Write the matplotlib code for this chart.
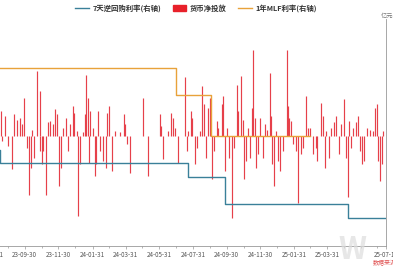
import pandas as pd
import matplotlib
matplotlib.use('Agg')
from matplotlib import pyplot as plt
from matplotlib.lines import Line2D
from matplotlib.patches import Patch
from matplotlib.ticker import MultipleLocator

plt.rcParams['font.family'] = ['Noto Sans CJK SC', 'DejaVu Sans']

# 货币净投放 (亿元)
inj_dates = [
    '2023-08-18', '2023-08-20', '2023-08-26', '2023-08-30',
    '2023-09-07', '2023-09-11', '2023-09-16', '2023-09-22', '2023-09-25', '2023-09-29',
    '2023-10-04', '2023-10-08', '2023-10-12', '2023-10-14', '2023-10-16', '2023-10-23', '2023-10-27', '2023-10-28', '2023-10-31',
    '2023-11-03', '2023-11-07', '2023-11-12', '2023-11-15', '2023-11-21', '2023-11-24', '2023-11-27',
    '2023-12-01', '2023-12-04', '2023-12-09', '2023-12-13', '2023-12-18', '2023-12-21', '2023-12-26', '2023-12-28',
    '2024-01-02', '2024-01-05', '2024-01-08', '2024-01-13', '2024-01-18', '2024-01-19', '2024-01-22', '2024-01-24', '2024-01-26', '2024-01-31',
    '2024-02-04', '2024-02-07', '2024-02-10', '2024-02-13', '2024-02-19', '2024-02-24', '2024-02-27', '2024-02-29',
    '2024-03-06', '2024-03-12', '2024-03-21', '2024-03-28', '2024-03-30',
    '2024-04-02', '2024-04-08',
    '2024-05-02', '2024-05-10',
    '2024-06-01', '2024-06-04', '2024-06-07', '2024-06-16', '2024-06-21', '2024-06-25', '2024-06-28',
    '2024-07-04', '2024-07-17', '2024-07-20', '2024-07-22', '2024-07-27', '2024-07-30',
    '2024-08-04', '2024-08-07', '2024-08-13', '2024-08-17', '2024-08-20', '2024-08-23', '2024-08-28', '2024-08-31',
    '2024-09-04', '2024-09-08', '2024-09-12', '2024-09-15', '2024-09-21', '2024-09-24', '2024-09-27', '2024-09-30',
    '2024-10-05', '2024-10-10', '2024-10-13', '2024-10-18', '2024-10-21', '2024-10-26', '2024-10-29',
    '2024-11-01', '2024-11-04', '2024-11-08', '2024-11-11', '2024-11-15', '2024-11-17', '2024-11-20', '2024-11-23', '2024-11-26', '2024-11-30',
    '2024-12-05', '2024-12-08', '2024-12-13', '2024-12-17', '2024-12-19', '2024-12-22', '2024-12-25', '2024-12-28',
    '2025-01-02', '2025-01-05', '2025-01-11', '2025-01-17', '2025-01-19', '2025-01-22', '2025-01-25', '2025-01-29',
    '2025-02-03', '2025-02-07', '2025-02-12', '2025-02-16', '2025-02-21', '2025-02-25',
    '2025-03-01', '2025-03-06', '2025-03-11', '2025-03-13', '2025-03-20', '2025-03-23', '2025-03-27', '2025-03-30',
    '2025-04-04', '2025-04-08', '2025-04-12', '2025-04-17', '2025-04-22', '2025-04-26',
    '2025-05-01', '2025-05-04', '2025-05-08', '2025-05-10', '2025-05-13', '2025-05-18', '2025-05-22', '2025-05-26', '2025-05-30',
    '2025-06-03', '2025-06-06', '2025-06-11', '2025-06-17', '2025-06-22', '2025-06-26', '2025-06-29',
    '2025-07-01', '2025-07-05', '2025-07-08', '2025-07-11',
]
inj_values = [
    2700, -550, 2200, -1100,
    -3600, 2400, 1800, 2000, 1300, 4200,
    -1300, -6400, -3500, 700, -2400, 7100, 4900, -1600, -3100,
    -1600, -6400, 1500, 1600, 1300, 2900, 2400,
    -5500, -3500, 900, 2000, -1600, 1300, 3300, 2500,
    500, -8700, -3100, 400, 2400, 6700, 4200, -2900, 2700, 900,
    -4400, -3100, 2700, -1600, -2700, -3500, 2500, 3300,
    -3800, 500, 400, 2400, 1300,
    -900, -4000,
    4200, -4400,
    2400, 1100, -2500, 500, 2500, 2000, 900,
    -2900, 6400, -1600, 500, 2700, 2000,
    -3100, -1300, 500, 5500, 3500, -2400, 3100, 4200,
    -4700, -1600, 1600, 900, 3500, 4400, -3800, 900,
    -2400, -8900, -1300, 5600, 2700, 6500, 1800,
    -4700, -2700, 900, -2400, 3100, 9400, 2000, -3500, -2000, 2000,
    -2400, 1300, 700, 6900, 2200, -3100, -5500, 500,
    -2700, -3800, -1600, 9400, 3300, 2000, 1600, -900,
    -1600, -7300, -2000, -1300, 4400, 900,
    900, -2000, -1300, -2700, 3600, 2200, -3500, 500,
    -2400, 900, 1500, 2200, -2000, 1300,
    4000, -2400, -6700, 1600, -1300, 900, 1500, 2200, -1600,
    -3100, -2700, 900, 700, 500, 3100, 3500,
    -2700, -4900, -3100, 500,
]

# 7天逆回购利率 (%), step changes
repo_dates = ['2023-07-11', '2023-08-17', '2024-07-22', '2024-09-27', '2025-05-08', '2025-07-16']
repo_rates = [1.9, 1.8, 1.7, 1.5, 1.4, 1.4]

# 1年MLF利率 (%), monthly
mlf_dates = ['2023-07-01', '2023-08-01', '2023-09-01', '2023-10-01', '2023-11-01', '2023-12-01',
             '2024-01-01', '2024-02-01', '2024-03-01', '2024-04-01', '2024-05-01', '2024-06-01',
             '2024-07-01', '2024-08-01', '2024-09-01', '2024-10-01', '2024-11-01', '2024-12-01',
             '2025-01-01', '2025-02-01', '2025-03-01']
mlf_rates = [2.65, 2.5, 2.5, 2.5, 2.5, 2.5,
             2.5, 2.5, 2.5, 2.5, 2.5, 2.5,
             2.3, 2.3, 2.0, 2.0, 2.0, 2.0,
             2.0, 2.0, 2.0]

xtick_dates = ['2023-07-31', '2023-09-30', '2023-11-30', '2024-01-31', '2024-03-31', '2024-05-31',
               '2024-07-31', '2024-09-30', '2024-11-30', '2025-01-31', '2025-03-31', '2025-07-16']
xtick_labels = ['23-07-31', '23-09-30', '23-11-30', '24-01-31', '24-03-31', '24-05-31',
                '24-07-31', '24-09-30', '24-11-30', '25-01-31', '25-03-31', '25-07-16']

fig = plt.figure(figsize=(3.93, 2.67), dpi=100)
ax = fig.add_axes([-20 / 393, 21 / 267, 406 / 393, 227 / 267])

# thin daily bars drawn as vertical lines from zero
ax.vlines(pd.to_datetime(inj_dates), 0, inj_values, colors='#e6404a', lw=0.85, zorder=2)
ax.set_xlim(pd.Timestamp('2023-07-11'), pd.Timestamp('2025-07-16'))
ax.set_ylim(-12000, 12765)

ax.yaxis.tick_right()
ax.set_yticks(range(-12000, 12001, 3000))
ax.yaxis.set_major_formatter(lambda v, p: f'{int(v):,}')
ax.yaxis.set_minor_locator(MultipleLocator(1000))
ax.set_xticks(pd.to_datetime(xtick_dates))
ax.set_xticklabels(xtick_labels)
ax.set_xticks(pd.date_range('2023-07-31', '2025-06-30', freq='ME'), minor=True)

for s in ['left', 'top']:
    ax.spines[s].set_visible(False)
for s in ['right', 'bottom']:
    ax.spines[s].set_color('#999999')
    ax.spines[s].set_linewidth(0.6)
ax.tick_params(which='both', labelsize=4.5, colors='#999999', labelcolor='#555555',
               length=2.5, width=0.5, pad=1.2)
ax.tick_params(which='minor', length=1.5)

ax2 = ax.twinx()
ax2.set_ylim(1.191, 2.860)
ax2.axis('off')
ax2.plot(pd.to_datetime(repo_dates), repo_rates, drawstyle='steps-post', color='#3a8099', lw=1.0)
ax2.plot(pd.to_datetime(mlf_dates), mlf_rates, drawstyle='steps-post', color='#e8a23a', lw=1.0)

handles = [Line2D([], [], color='#3a8099', lw=1.0),
           Patch(color='#e8202a'),
           Line2D([], [], color='#e8a23a', lw=1.0)]
labels = ['7天逆回购利率(右轴)', '货币净投放', '1年MLF利率(右轴)']
leg = fig.legend(handles, labels, loc='upper center', bbox_to_anchor=(196 / 393, 1.0), ncol=3,
                 frameon=False, handlelength=1.8, handleheight=0.9,
                 columnspacing=1.6, handletextpad=0.5, borderaxespad=0.15,
                 prop={'weight': 'bold', 'size': 5.3})
for t in leg.get_texts():
    t.set_color('#333333')

fig.text(381 / 393, 1 - 16 / 267, '亿元', fontsize=4.5, color='#777777', ha='left', va='center')
fig.text(352 / 393, 1 - 250 / 267, 'W', fontsize=22, color='#dddddd', alpha=0.7,
         weight='bold', ha='center', va='center')
fig.text(373 / 393, 1 - 263.5 / 267, '数据来源：', fontsize=4.3, color='#e05050', ha='left', va='center')

fig.savefig('out.png', dpi=100)
